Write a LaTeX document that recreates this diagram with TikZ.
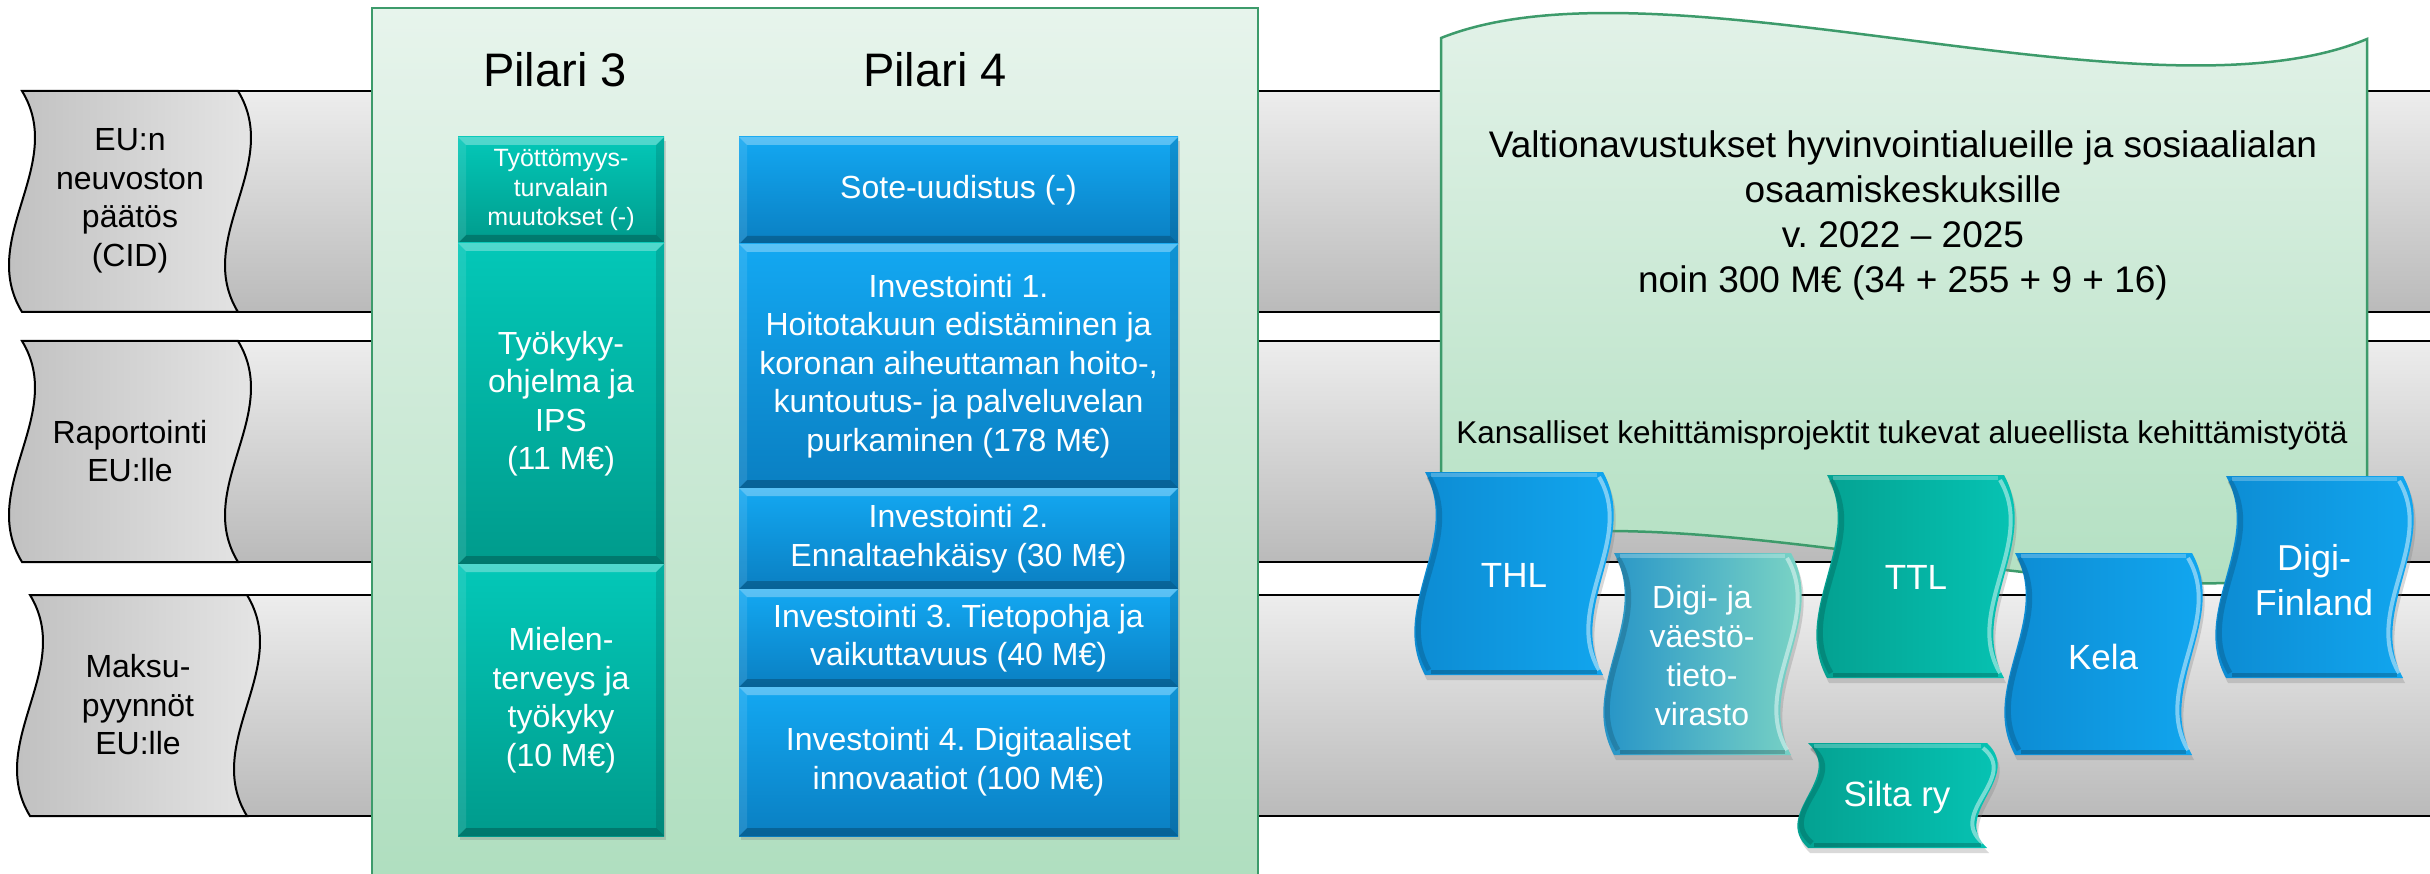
\documentclass[tikz,border=0pt]{standalone}
\usepackage{fontspec}
\setmainfont{Liberation Sans}
\frenchspacing
\usetikzlibrary{shadows}
\definecolor{bandtop}{HTML}{EDEDED}
\definecolor{bandbot}{HTML}{BABABA}
\definecolor{tapeL}{HTML}{BCBCBC}
\definecolor{tapeR}{HTML}{E9E9E9}
\definecolor{paneltop}{HTML}{E7F4EC}
\definecolor{panelbot}{HTML}{AEDEBE}
\definecolor{panelborder}{HTML}{3D9B6B}
\definecolor{tealtop}{HTML}{03C8B8}
\definecolor{tealbot}{HTML}{009B8C}
\definecolor{bluetop}{HTML}{13A8F2}
\definecolor{bluebot}{HTML}{0A7FC2}
\definecolor{blueL}{HTML}{0C88CF}
\definecolor{blueR}{HTML}{12AAF3}
\definecolor{tealL}{HTML}{049C8C}
\definecolor{tealR}{HTML}{06C8B8}
\definecolor{dvvL}{HTML}{1B8CC8}
\definecolor{dvvR}{HTML}{86DCC4}
\newcommand\wavebox[6]{% style, x0, y0, w, h, A
  \path[#1] (#2,#3) -- ({#2+#4},#3)
    .. controls ({#2+#4+#6},{#3+#5/3}) and ({#2+#4-#6},{#3+2*#5/3}) .. ({#2+#4},{#3+#5})
    -- (#2,{#3+#5})
    .. controls ({#2-#6},{#3+2*#5/3}) and ({#2+#6},{#3+#5/3}) .. (#2,#3) -- cycle;}
\newcommand\rims[5]{% x0, y0, w, h, A : bevel rims
  \draw[white,opacity=.45,line width=4pt] ({#1+#3-4},{#2+5})
    .. controls ({#1+#3+#5-4},{#2+#4/3}) and ({#1+#3-#5-4},{#2+2*#4/3}) .. ({#1+#3-4},{#2+#4-5});
  \draw[black,opacity=.15,line width=5pt] ({#1+4},{#2+5})
    .. controls ({#1+#5+4},{#2+#4/3}) and ({#1-#5+4},{#2+2*#4/3}) .. ({#1+4},{#2+#4-5});
  \draw[white,opacity=.25,line width=4pt] ({#1+6},{#2+3}) -- ({#1+#3-6},{#2+3});
  \draw[black,opacity=.2,line width=4pt] ({#1+6},{#2+#4-3}) -- ({#1+#3-6},{#2+#4-3});}
\begin{document}
\begin{tikzpicture}[x=1pt,y=-1pt,
  tape/.style={draw=black,line width=2pt,left color=tapeL,right color=tapeR},
  lbl/.style={align=center,font=\fontsize{32}{38.5}\selectfont,text=black},
  titlefont/.style={font=\fontsize{47}{56}\selectfont,text=black},
  bevel/.style={path picture={
    \fill[white,opacity=.30] (path picture bounding box.north west) -- (path picture bounding box.north east)
      -- ([xshift=-8pt,yshift=-8pt]path picture bounding box.north east) -- ([xshift=8pt,yshift=-8pt]path picture bounding box.north west) -- cycle;
    \fill[black,opacity=.22] (path picture bounding box.south west) -- (path picture bounding box.south east)
      -- ([xshift=-8pt,yshift=8pt]path picture bounding box.south east) -- ([xshift=8pt,yshift=8pt]path picture bounding box.south west) -- cycle;
    \fill[white,opacity=.10] (path picture bounding box.north west) -- ([xshift=8pt,yshift=-8pt]path picture bounding box.north west)
      -- ([xshift=8pt,yshift=8pt]path picture bounding box.south west) -- (path picture bounding box.south west) -- cycle;
    \fill[black,opacity=.12] (path picture bounding box.north east) -- ([xshift=-8pt,yshift=-8pt]path picture bounding box.north east)
      -- ([xshift=-8pt,yshift=8pt]path picture bounding box.south east) -- (path picture bounding box.south east) -- cycle;
  }},
  boxbase/.style={bevel,inner sep=0pt,outer sep=0pt,align=center,text=white,
    font=\fontsize{32}{38.5}\selectfont,
    drop shadow={shadow xshift=2pt,shadow yshift=-4pt,opacity=.3}},
  tealbox/.style={boxbase,top color=tealtop,bottom color=tealbot,minimum width=206pt},
  bluebox/.style={boxbase,top color=bluetop,bottom color=bluebot,minimum width=439pt},
  wshadow/.style={drop shadow={shadow xshift=2pt,shadow yshift=-5pt,opacity=.3}},
  bluewave/.style={wshadow,left color=blueL,right color=blueR},
  tealwave/.style={wshadow,left color=tealL,right color=tealR},
  dvvwave/.style={wshadow,left color=dvvL,right color=dvvR},
  wtext/.style={align=center,text=white,font=\fontsize{35}{45}\selectfont}
]
\useasboundingbox (0,0) rectangle (2430,874);

% gray bands
\foreach \t/\b in {91/312, 341/562, 595/816}{
  \shade[top color=bandtop,bottom color=bandbot] (200,\t) rectangle (2440,\b);
  \draw[line width=2.5pt] (200,\t) -- (2440,\t) (200,\b) -- (2440,\b);
}

% left tape labels
\wavebox{tape}{22}{91}{216}{221}{45}
\node[lbl] (cid) at (130,201) {EU:n\\neuvoston\\päätös\\(CID)};
\wavebox{tape}{22}{341}{216}{221}{45}
\node[lbl] (rap) at (130,451) {Raportointi\\EU:lle};
\wavebox{tape}{30}{595}{217}{221}{45}
\node[lbl] (mak) at (138,705) {Maksu-\\pyynnöt\\EU:lle};

% pillar panel
\path[draw=panelborder,line width=2.5pt,top color=paneltop,bottom color=panelbot] (372,8) rectangle (1258,900);
\node[titlefont] (p3) at (555,70) {Pilari 3};
\node[titlefont] (p4) at (935,70) {Pilari 4};

% Pilari 3
\node[tealbox,minimum height=106pt,font=\fontsize{25}{29.5}\selectfont] (tt) at (561,190) {Työttömyys-\\turvalain\\muutokset (-)};
\node[tealbox,minimum height=321pt] (tk) at (561,403.5) {Työkyky-\\ohjelma ja\\IPS\\(11 M€)};
\node[tealbox,minimum height=272pt] (mt) at (561,700) {Mielen-\\terveys ja\\työkyky\\(10 M€)};

% Pilari 4
\node[bluebox,minimum height=107pt] (sote) at (958.5,190.5) {Sote-uudistus (-)};
\node[bluebox,minimum height=244pt] (inv1) at (958.5,366) {Investointi 1.\\Hoitotakuun edistäminen ja\\koronan aiheuttaman hoito-,\\kuntoutus- ja palveluvelan\\purkaminen (178 M€)};
\node[bluebox,minimum height=101pt] (inv2) at (958.5,538.5) {Investointi 2.\\Ennaltaehkäisy (30 M€)};
\node[bluebox,minimum height=98pt] (inv3) at (958.5,638) {Investointi 3. Tietopohja ja\\vaikuttavuus (40 M€)};
\node[bluebox,minimum height=149pt] (inv4) at (958.5,761.5) {Investointi 4. Digitaaliset\\innovaatiot (100 M€)};

% right green wave
\path[draw=panelborder,line width=2.5pt,top color=paneltop,bottom color=panelbot]
  (1441,38) .. controls (1660,-50) and (2150,130) .. (2367,39)
  -- (2367,557) .. controls (2150,648) and (1660,468) .. (1441,556) -- cycle;
\node[align=center,text=black,font=\fontsize{37}{45}\selectfont] (va) at (1903,215)
  {Valtionavustukset hyvinvointialueille ja sosiaalialan\\osaamiskeskuksille\\v. 2022 – 2025\\noin 300 M€ (34 + 255 + 9 + 16)};
\node[text=black,font=\fontsize{31.5}{38}\selectfont] (ka) at (1902,435)
  {Kansalliset kehittämisprojektit tukevat alueellista kehittämistyötä};

% organisation waves
\wavebox{bluewave}{1425}{472}{178}{203}{37}
\rims{1425}{472}{178}{203}{37}
\node[wtext] (thl) at (1514,575) {THL};
\wavebox{dvvwave}{1614}{553}{177}{202}{37}
\rims{1614}{553}{177}{202}{37}
\node[wtext,font=\fontsize{32}{39}\selectfont] (dvv) at (1702,656) {Digi- ja\\väestö-\\tieto-\\virasto};
\wavebox{tealwave}{1827}{475}{177}{203}{37}
\rims{1827}{475}{177}{203}{37}
\node[wtext] (ttl) at (1916,577) {TTL};
\wavebox{bluewave}{2015}{553}{177}{202}{37}
\rims{2015}{553}{177}{202}{37}
\node[wtext] (kela) at (2103,657) {Kela};
\wavebox{bluewave}{2226}{476}{177}{202}{37}
\rims{2226}{476}{177}{202}{37}
\node[wtext,font=\fontsize{36}{45}\selectfont] (df) at (2314,580) {Digi-\\Finland};
\wavebox{tealwave}{1808}{743}{179}{105}{37}
\rims{1808}{743}{179}{105}{37}
\node[wtext] (silta) at (1897,797) {Silta ry};
\end{tikzpicture}
\end{document}
